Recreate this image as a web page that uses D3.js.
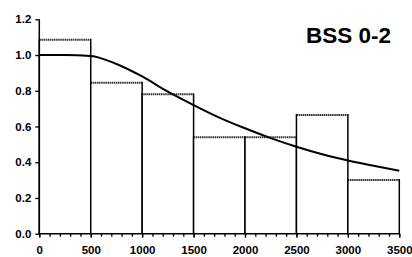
<!DOCTYPE html>
<html>
<head>
<meta charset="utf-8">
<script src="https://cdn.jsdelivr.net/npm/d3@7"></script>
<style>
  body { margin: 0; background: #fff; }
  svg text { font-family: "Liberation Sans", Arial, sans-serif; font-weight: bold; }
</style>
</head>
<body>
<div id="chart"></div>
<script>
// histogram bins (start of each 500 wide bin) and heights
var binStarts = [0, 500, 1000, 1500, 2000, 2500, 3000];
var binWidth = 500;
var binValues = [1.085, 0.845, 0.78, 0.54, 0.54, 0.665, 0.30];

// fitted curve
var curveX = [0, 250, 500, 750, 1000, 1250, 1500, 1750, 2000, 2250, 2500, 2750, 3000, 3250, 3500];
var curveY = [1.0, 1.0, 0.995, 0.95, 0.88, 0.795, 0.72, 0.65, 0.59, 0.535, 0.487, 0.445, 0.41, 0.38, 0.352];

var xTicks = [0, 500, 1000, 1500, 2000, 2500, 3000, 3500];
var yTicks = [0, 0.2, 0.4, 0.6, 0.8, 1.0, 1.2];
var title = "BSS 0-2";

var width = 412, height = 257;
var margin = {left: 39.3, right: 12.7, top: 19.3, bottom: 23.3};

var svg = d3.select('#chart').append('svg')
  .attr('width', width)
  .attr('height', height);

var x = d3.scaleLinear().domain([0, 3500]).range([margin.left, width - margin.right]);
var y = d3.scaleLinear().domain([0, 1.2]).range([height - margin.bottom, margin.top]);

// bars
var bars = svg.append('g');
binStarts.forEach(function(s, i) {
  var x0 = x(s), x1 = x(s + binWidth), yt = y(binValues[i]), yb = y(0);
  bars.append('rect')
    .attr('x', x0).attr('y', yt)
    .attr('width', x1 - x0).attr('height', yb - yt)
    .attr('fill', '#fff');
  bars.append('line')
    .attr('x1', x0).attr('x2', x1).attr('y1', yt).attr('y2', yt)
    .attr('stroke', '#333').attr('stroke-width', 2)
    .attr('stroke-dasharray', '1.5,0.6');
  [x0, x1].forEach(function(xx) {
    bars.append('line')
      .attr('x1', xx).attr('x2', xx).attr('y1', yt - 1).attr('y2', yb)
      .attr('stroke', '#000').attr('stroke-width', 1.5);
  });
});

// curve
var pts = curveX.map(function(d, i) { return [d, curveY[i]]; });
svg.append('path')
  .datum(pts)
  .attr('fill', 'none')
  .attr('stroke', '#000')
  .attr('stroke-width', 2)
  .attr('d', d3.line()
    .x(function(d) { return x(d[0]); })
    .y(function(d) { return y(d[1]); })
    .curve(d3.curveMonotoneX));

// x axis with minor ticks
var xAxis = svg.append('g')
  .attr('transform', 'translate(0,' + y(0) + ')');
xAxis.call(d3.axisBottom(x).tickValues(d3.range(0, 3501, 100)).tickSize(3).tickFormat(''))
  .call(function(g) { g.select('.domain').remove(); });
xAxis.append('g')
  .call(d3.axisBottom(x).tickValues(xTicks).tickSize(4).tickPadding(8).tickFormat(d3.format('d')))
  .call(function(g) { g.select('.domain').remove(); });
xAxis.selectAll('line').attr('stroke', '#000').attr('stroke-width', 1.3);
xAxis.selectAll('text').attr('font-size', 11.5).attr('fill', '#000')
  .attr('font-family', '"Liberation Sans", Arial, sans-serif').attr('font-weight', 'bold');
xAxis.append('line')
  .attr('x1', x(0) - 0.7).attr('x2', x(3500) + 0.7)
  .attr('stroke', '#000').attr('stroke-width', 1.5);

// y axis
var yAxis = svg.append('g')
  .attr('transform', 'translate(' + x(0) + ',0)');
yAxis.call(d3.axisLeft(y).tickValues(yTicks).tickSize(4).tickPadding(4).tickFormat(d3.format('.1f')))
  .call(function(g) { g.select('.domain').remove(); });
yAxis.selectAll('line').attr('stroke', '#000').attr('stroke-width', 1.3);
yAxis.selectAll('text').attr('font-size', 11.5).attr('fill', '#000')
  .attr('font-family', '"Liberation Sans", Arial, sans-serif').attr('font-weight', 'bold');
yAxis.append('line')
  .attr('y1', y(0)).attr('y2', y(1.2))
  .attr('stroke', '#000').attr('stroke-width', 1.5);

// title
svg.append('text')
  .attr('x', 391).attr('y', 43)
  .attr('text-anchor', 'end')
  .attr('font-size', 22.5)
  .text(title);
</script>
</body>
</html>
